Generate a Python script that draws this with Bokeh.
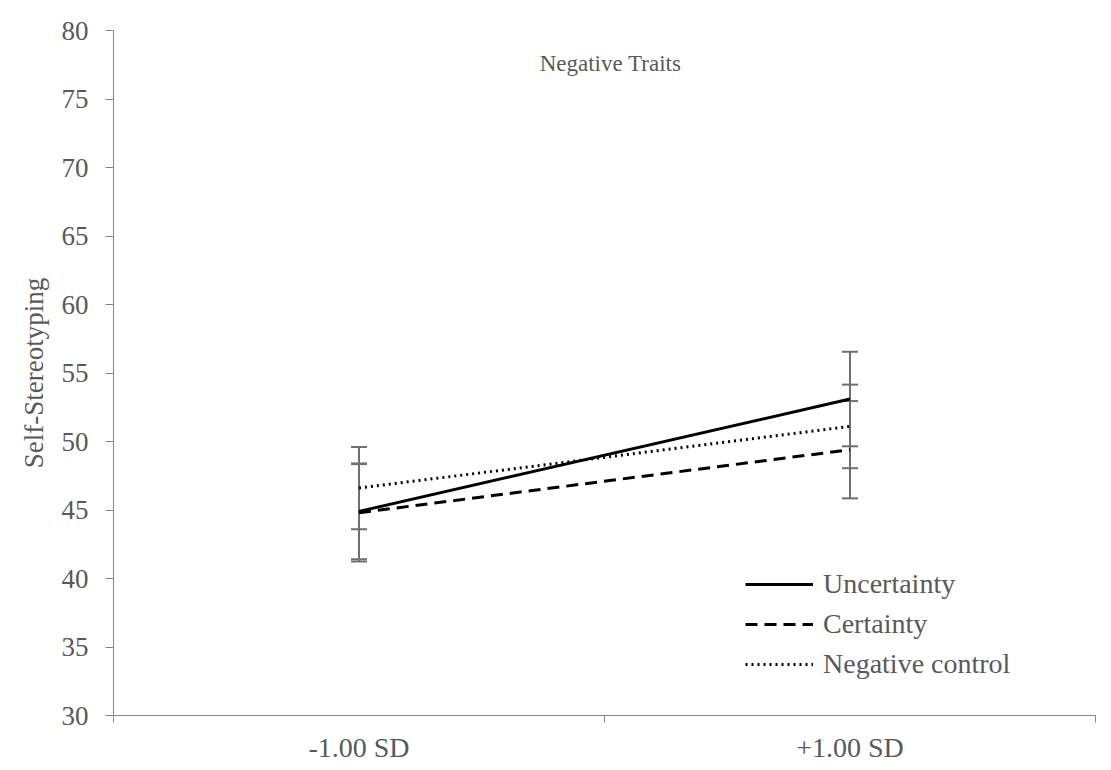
from bokeh.plotting import figure
from bokeh.models import (ColumnDataSource, Whisker, FixedTicker, Label, Legend,
                          LegendItem, Range1d, TeeHead)
from bokeh.embed import file_html
from bokeh.resources import INLINE

# ---- data ----
categories = ["-1.00 SD", "+1.00 SD"]
uncertainty = [44.9, 53.1]
uncertainty_err = [3.5, 3.45]
certainty = [44.8, 49.4]
certainty_err = [3.55, 3.55]
negative_control = [46.6, 51.1]
negative_control_err = [3.0, 3.05]
y_ticks = [30, 35, 40, 45, 50, 55, 60, 65, 70, 75, 80]
title_text = "Negative Traits"
y_label = "Self-Stereotyping"

FONT = "Liberation Serif"
TXT = "#595959"
AX = "#868686"
BAR = "#6f6f6f"

x = [i + 0.5 for i in range(len(categories))]
boundaries = [i for i in range(len(categories) + 1)]

p = figure(width=1111, height=770, x_range=Range1d(0, len(categories)),
           y_range=Range1d(y_ticks[0], y_ticks[-1]),
           output_backend="svg", toolbar_location=None,
           min_border_left=113, min_border_right=16,
           min_border_top=30, min_border_bottom=55)
p.styles = {"outline": "1px solid #d9d9d9", "outline-offset": "-3px"}
p.xgrid.visible = False
p.ygrid.visible = False
p.outline_line_color = None
p.background_fill_color = "white"
p.border_fill_color = "white"

# y axis
p.yaxis.ticker = FixedTicker(ticks=y_ticks)
p.yaxis.major_tick_out = 8
p.yaxis.major_tick_in = 0
p.yaxis.minor_tick_out = 0
p.yaxis.minor_tick_in = 0
p.yaxis.axis_line_color = AX
p.yaxis.major_tick_line_color = AX
p.yaxis.major_label_text_font = FONT
p.yaxis.major_label_text_font_size = "27px"
p.yaxis.major_label_text_color = TXT
p.yaxis.major_label_standoff = 17
p.yaxis.axis_label = y_label
p.yaxis.axis_label_text_font = FONT
p.yaxis.axis_label_text_font_size = "27px"
p.yaxis.axis_label_text_font_style = "normal"
p.yaxis.axis_label_text_color = TXT
p.yaxis.axis_label_standoff = 10

# x axis
p.xaxis.ticker = FixedTicker(ticks=x, minor_ticks=boundaries)
p.xaxis.major_label_overrides = {xv: c for xv, c in zip(x, categories)}
p.xaxis.major_tick_out = 0
p.xaxis.major_tick_in = 0
p.xaxis.minor_tick_out = 7
p.xaxis.minor_tick_in = 0
p.xaxis.minor_tick_line_color = AX
p.xaxis.axis_line_color = AX
p.xaxis.major_label_text_font = FONT
p.xaxis.major_label_text_font_size = "28px"
p.xaxis.major_label_text_color = TXT
p.xaxis.major_label_standoff = 9

# error bars
for vals, errs in [(uncertainty, uncertainty_err), (certainty, certainty_err),
                   (negative_control, negative_control_err)]:
    src = ColumnDataSource(dict(x=x,
                                upper=[v + e for v, e in zip(vals, errs)],
                                lower=[v - e for v, e in zip(vals, errs)]))
    w = Whisker(base="x", upper="upper", lower="lower", source=src,
                dimension="height", line_color=BAR, line_width=2,
                upper_head=TeeHead(size=16, line_color=BAR, line_width=2),
                lower_head=TeeHead(size=16, line_color=BAR, line_width=2))
    p.add_layout(w)

# lines
r1 = p.line(x, uncertainty, line_color="black", line_width=3)
r2 = p.line(x, certainty, line_color="black", line_width=3, line_dash="12 7")
r3 = p.line(x, negative_control, line_color="black", line_width=3, line_dash="2 4")

legend = Legend(items=[LegendItem(label="Uncertainty", renderers=[r1]),
                       LegendItem(label="Certainty", renderers=[r2]),
                       LegendItem(label="Negative control", renderers=[r3])],
                location=(632, 35), border_line_color=None,
                background_fill_alpha=0,
                label_text_font=FONT, label_text_font_size="28px",
                label_text_color=TXT, glyph_width=68, glyph_height=32,
                label_height=32, spacing=8, padding=0, margin=0,
                label_standoff=10)
p.add_layout(legend)

title = Label(x=len(categories) / 2, y=77.6, text=title_text,
              text_font=FONT, text_font_size="23px", text_color=TXT,
              text_align="center", text_baseline="middle", x_offset=6)
p.add_layout(title)

open("out.html", "w").write(file_html(p, INLINE))
